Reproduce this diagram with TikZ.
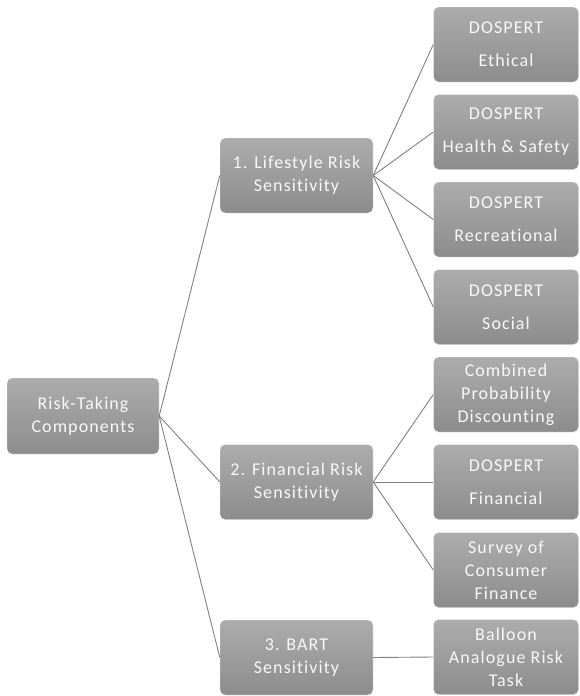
\documentclass[tikz,border=0pt]{standalone}
\usepackage{fontspec}
\setmainfont{Carlito}[LetterSpace=6,RawFeature=-liga]
\definecolor{boxtop}{RGB}{172,172,172}
\definecolor{boxbot}{RGB}{140,140,140}
\definecolor{boxtext}{RGB}{248,248,248}
\definecolor{connc}{RGB}{128,128,128}
\tikzset{
  gbox/.style={rounded corners=5pt, top color=boxtop, bottom color=boxbot,
    draw=white!85!gray, line width=0.4pt, text=boxtext, align=center,
    inner sep=0pt, font=\fontsize{18}{23}\selectfont},
  rootbox/.style={gbox, minimum width=152pt, minimum height=76pt},
  midbox/.style={gbox, minimum width=153pt, minimum height=75pt},
  leafbox/.style={gbox, minimum width=145pt, minimum height=75pt},
  conn/.style={draw=connc, line width=0.9pt}
}
\begin{document}
\begin{tikzpicture}[x=1pt,y=-1pt]
\useasboundingbox (0,0) rectangle (579,696);
\node[rootbox] (root) at (83,416) {Risk-Taking\\Components};
\node[midbox] (m1) at (296.5,175.5) {1. Lifestyle Risk\\Sensitivity};
\node[midbox] (m2) at (296.5,482) {2. Financial Risk\\Sensitivity};
\node[midbox] (m3) at (296.5,657.5) {3. BART\\Sensitivity};
\node[leafbox] (l1) at (506,44.5) {DOSPERT\\[10pt]Ethical};
\node[leafbox] (l2) at (506,132) {DOSPERT\\[10pt]Health \& Safety};
\node[leafbox] (l3) at (506,219.5) {DOSPERT\\[10pt]Recreational};
\node[leafbox] (l4) at (506,307) {DOSPERT\\[10pt]Social};
\node[leafbox] (l5) at (506,394.5) {Combined\\Probability\\Discounting};
\node[leafbox] (l6) at (506,482) {DOSPERT\\[10pt]Financial};
\node[leafbox] (l7) at (506,570) {Survey of\\Consumer\\Finance};
\node[leafbox] (l8) at (506,657) {Balloon\\Analogue Risk\\Task};
\foreach \m in {m1,m2,m3} \draw[conn] (root.east) -- (\m.west);
\foreach \l in {l1,l2,l3,l4} \draw[conn] (m1.east) -- (\l.west);
\foreach \l in {l5,l6,l7} \draw[conn] (m2.east) -- (\l.west);
\draw[conn] (m3.east) -- (l8.west);
\end{tikzpicture}
\end{document}
